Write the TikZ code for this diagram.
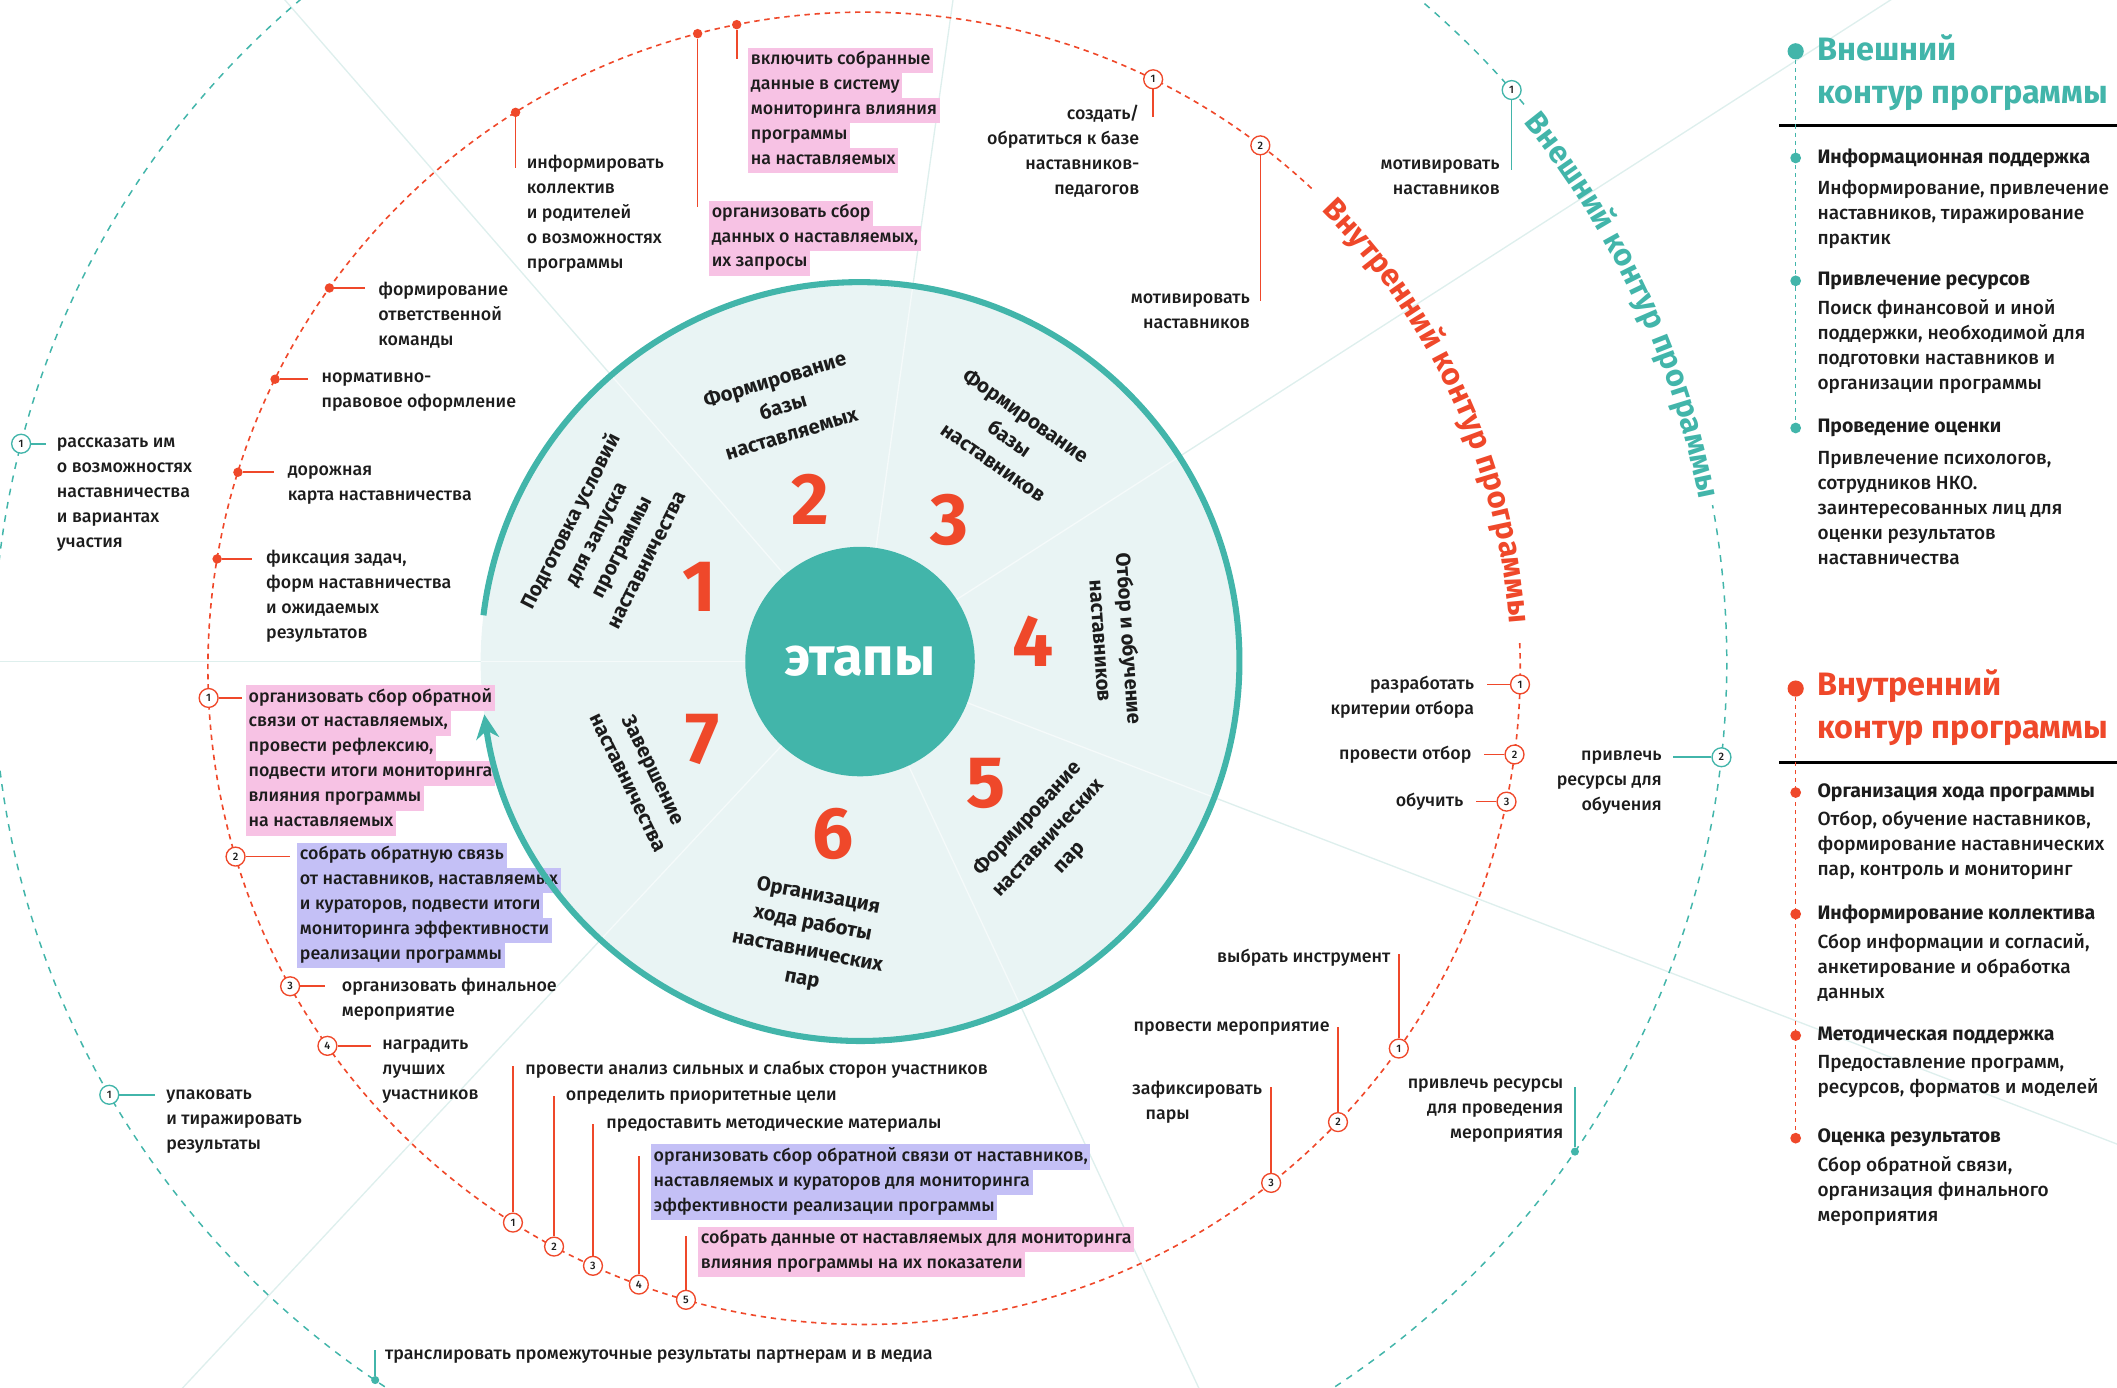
\documentclass[tikz,border=0pt]{standalone}
\usepackage{fontspec}
\IfFontExistsTF{Fira Sans Medium}
  {\setmainfont{Fira Sans Medium}[BoldFont={Fira Sans Bold}]}
  {\setmainfont{Fira Sans}}
\usetikzlibrary{calc,arrows.meta,decorations.text}

\definecolor{tealc}{RGB}{66,181,170}
\definecolor{redc}{RGB}{239,72,42}
\definecolor{diskc}{RGB}{233,244,244}
\definecolor{linec}{RGB}{222,239,237}
\definecolor{pinkhl}{RGB}{247,194,228}
\definecolor{violhl}{RGB}{196,192,246}
\definecolor{inkc}{RGB}{28,28,28}

% highlighted lines
\newcommand{\hl}[2]{{\setlength{\fboxsep}{2pt}\colorbox{#1}{\rule[-4.5pt]{0pt}{14.5pt}#2}}}
\newcommand{\pk}[1]{\hl{pinkhl}{#1}}
\newcommand{\vl}[1]{\hl{violhl}{#1}}

\begin{document}
\begin{tikzpicture}[x=1pt, y=1pt,
  guide/.style={draw=linec, line width=1pt},
  txt/.style={font=\fontsize{13.2}{18.5}\selectfont, text=inkc, inner sep=0pt, align=left},
  txtr/.style={txt, align=right},
  stagelbl/.style={font=\fontsize{15}{21}\selectfont\bfseries, text=inkc, inner sep=0pt, align=center},
  stnum/.style={font=\fontsize{54}{54}\selectfont\bfseries, text=redc, inner sep=0pt},
  rdot/.style={circle, fill=redc, inner sep=0pt, minimum size=7pt},
  tdot/.style={circle, fill=tealc, inner sep=0pt, minimum size=6pt},
  rnum/.style={circle, draw=redc, fill=white, line width=1pt, inner sep=0pt, minimum size=14pt, font=\fontsize{8}{8}\selectfont, text=inkc},
  tnum/.style={rnum, draw=tealc},
  rlink/.style={draw=redc, line width=1.2pt},
  tlink/.style={draw=tealc, line width=1.2pt},
  keytitle/.style={font=\fontsize{24}{32}\selectfont\bfseries, inner sep=0pt, align=left, anchor=west},
  keyhead/.style={font=\fontsize{14.4}{18.5}\selectfont\bfseries, text=inkc, inner sep=0pt, anchor=west},
  keytxt/.style={txt, font=\fontsize{14.1}{18.5}\selectfont, anchor=west},
]
\useasboundingbox (-637,-538) rectangle (931,490);
\coordinate (o) at (0,0);
\coordinate (rc) at (3,-5);

% sector lines and stage disk
\foreach \a in {180,131,82,32.7,-21,-65,-133}
  \draw[guide] (\a:281) -- (\a:1300);
\fill[diskc] (o) circle[radius=281];
\foreach \a in {180,131,82,32.7,-21,-65,-133}
  \draw[white!55!diskc, line width=1pt] (\a:85) -- (\a:281);

% inner and outer contours
\draw[redc, line width=1.2pt, dash pattern=on 4pt off 3.5pt] ($(rc)+(47:486)$) arc[start angle=47, end angle=362.5, radius=486];
\draw[tealc, line width=1.1pt, dash pattern=on 5pt off 5pt] (40:642) arc[start angle=40, end angle=370.4, radius=642];

\path[decorate, decoration={text along path, text align=center, text color=redc,
  text={|\fontsize{23}{23}\selectfont\bfseries|Внутренний контур программы}}]
  ($(rc)+(50:479)$) arc[start angle=50, end angle=-1, radius=479];
\path[decorate, decoration={text along path, text align=center, text color=tealc,
  text={|\fontsize{23}{23}\selectfont\bfseries|Внешний контур программы}}]
  (44:633) arc[start angle=44, end angle=6, radius=633];

% hub
\node[circle, fill=tealc, minimum size=170pt, inner sep=0pt, text=white, font=\fontsize{40}{40}\selectfont\bfseries] (hub) at (o) {этапы};

% stage numbers
\node[stnum] (n1) at (-119,55) {1};
\node[stnum] (n2) at (-37,120) {2};
\node[stnum] (n3) at (66,105) {3};
\node[stnum] (n4) at (128,15) {4};
\node[stnum] (n5) at (93,-90) {5};
\node[stnum] (n6) at (-20,-128) {6};
\node[stnum] (n7) at (-117,-58) {7};

% stage names
\node[stagelbl, rotate=63] (lab1) at (-187,90) {Подготовка условий\\для запуска\\программы\\наставничества};
\node[stagelbl, rotate=17] (lab2) at (-57,189) {Формирование\\базы\\наставляемых};
\node[stagelbl, rotate=-35] (lab3) at (111,165) {Формирование\\базы\\наставников};
\node[stagelbl, rotate=-86] (lab4) at (189,16) {Отбор и обучение\\наставников};
\node[stagelbl, rotate=47] (lab5) at (140,-131) {Формирование\\наставнических\\пар};
\node[stagelbl, rotate=-11] (lab6) at (-37,-205) {Организация\\хода работы\\наставнических\\пар};
\node[stagelbl, rotate=-64] (lab7) at (-162,-85) {Завершение\\наставничества};

% stage 1 tasks
\node[rdot] (a1) at ($(rc)!486pt!(-392,276)$) {};
\node[txt, anchor=west] (ta1) at (-357,256.5) {формирование\\ответственной\\команды};
\draw[rlink] (a1) -- ($(ta1.west |- a1)+(-10,0)$);
\node[rdot] (a2) at ($(rc)!486pt!(-433,209)$) {};
\node[txt, anchor=west] (ta2) at (-399,199.75) {нормативно-\\правовое оформление};
\draw[rlink] (a2) -- ($(ta2.west |- a2)+(-10,0)$);
\node[rdot] (a3) at ($(rc)!486pt!(-460,140)$) {};
\node[txt, anchor=west] (ta3) at (-424,130.75) {дорожная\\карта наставничества};
\draw[rlink] (a3) -- ($(ta3.west |- a3)+(-10,0)$);
\node[rdot] (a4) at ($(rc)!486pt!(-476,76)$) {};
\node[txt, anchor=west] (ta4) at (-440,48.25) {фиксация задач,\\форм наставничества\\и ожидаемых\\результатов};
\draw[rlink] (a4) -- ($(ta4.west |- a4)+(-10,0)$);
\node[tnum] (a5) at ($(o)!642pt!(-620,161)$) {1};
\node[txt, anchor=west] (ta5) at (-595,124) {рассказать им\\о возможностях\\наставничества\\и вариантах\\участия};
\draw[tlink] (a5) -- ($(ta5.west |- a5)+(-8,0)$);

% stage 2 tasks
\node[rdot] (b1) at ($(rc)!486pt!(-254,405)$) {};
\node[txt, anchor=west] (tb1) at (-247,332) {информировать\\коллектив\\и родителей\\о возможностях\\программы};
\draw[rlink] (b1) -- ($(b1 |- tb1.north)+(0,-10)$);
\node[rdot] (b2) at ($(rc)!486pt!(-120,464)$) {};
\node[txt, anchor=west] (tb2) at (-112,313.5) {\pk{организовать сбор}\\\pk{данных о наставляемых,}\\\pk{их запросы}};
\draw[rlink] (b2) -- ($(b2 |- tb2.north)+(0,-5)$);
\node[rdot] (b3) at ($(rc)!486pt!(-91,470)$) {};
\node[txt, anchor=west] (tb3) at (-83,408) {\pk{включить собранные}\\\pk{данные в систему}\\\pk{мониторинга влияния}\\\pk{программы}\\\pk{на наставляемых}};
\draw[rlink] (b3) -- ($(b3 |- tb3.north)+(0,-8)$);

% stage 3 tasks
\node[rnum] (c1) at ($(rc)!486pt!(216,429)$) {1};
\node[txtr, anchor=east] (tc1) at (207,378.25) {создать/\\обратиться к базе\\наставников-\\педагогов};
\draw[rlink] (c1) -- ($(c1 |- tc1.north)+(0,-9)$);
\node[rnum] (c2) at ($(rc)!486pt!(297,383)$) {2};
\node[txtr, anchor=east] (tc2) at (289,259.75) {мотивировать\\наставников};
\draw[rlink] (c2) -- ($(c2 |- tc2.north)+(0,-6)$);
\node[tnum] (c3) at ($(o)!642pt!(480,421)$) {1};
\node[txtr, anchor=east] (tc3) at (474,358.75) {мотивировать\\наставников};
\draw[tlink] (c3) -- ($(c3 |- tc3.north)+(0,-8)$);

% stage 4 tasks
\node[rnum] (d1) at ($(rc)!486pt!(490,-17)$) {1};
\node[txtr, anchor=east] (td1) at (455,-26.25) {разработать\\критерии отбора};
\draw[rlink] (d1) -- ($(td1.east |- d1)+(9,0)$);
\node[rnum] (d2) at ($(rc)!486pt!(486,-69)$) {2};
\node[txtr, anchor=east] (td2) at (453,-69) {провести отбор};
\draw[rlink] (d2) -- ($(td2.east |- d2)+(9,0)$);
\node[rnum] (d3) at ($(rc)!486pt!(480,-104)$) {3};
\node[txtr, anchor=east] (td3) at (447,-104) {обучить};
\draw[rlink] (d3) -- ($(td3.east |- d3)+(9,0)$);
\node[tnum] (d4) at ($(o)!642pt!(639,-71)$) {2};
\node[txtr, anchor=east] (td4) at (594,-89.5) {привлечь\\ресурсы для\\обучения};
\draw[tlink] (d4) -- ($(td4.east |- d4)+(8,0)$);

% stage 5 tasks
\node[rnum] (e1) at ($(rc)!486pt!(401,-288)$) {1};
\node[txtr, anchor=east] (te1) at (393,-219) {выбрать инструмент};
\draw[rlink] (e1) -- ($(e1 |- te1.north)+(0,-4)$);
\node[rnum] (e2) at ($(rc)!486pt!(356,-343)$) {2};
\node[txtr, anchor=east] (te2) at (348,-272) {провести мероприятие};
\draw[rlink] (e2) -- ($(e2 |- te2.north)+(0,-4)$);
\node[rnum] (e3) at ($(rc)!486pt!(306,-388)$) {3};
\node[txt, anchor=east] (te3) at (298,-326.25) {зафиксировать\\\hspace{10pt}пары};
\draw[rlink] (e3) -- ($(e3 |- te3.north)+(0,-5)$);
\node[tdot] (e4) at ($(o)!642pt!(531,-364)$) {};
\node[txtr, anchor=east] (te4) at (521,-332.5) {привлечь ресурсы\\для проведения\\мероприятия};
\draw[tlink] (e4) -- ($(e4 |- te4.north)+(0,-6)$);

% stage 6 tasks
\node[rnum] (f1) at ($(rc)!486pt!(-258,-417)$) {1};
\node[txt, anchor=west] (tf1) at (-248,-302) {провести анализ сильных и слабых сторон участников};
\draw[rlink] (f1) -- ($(f1 |- tf1.north)+(0,-4)$);
\node[rnum] (f2) at ($(rc)!486pt!(-227,-434)$) {2};
\node[txt, anchor=west] (tf2) at (-218,-323) {определить приоритетные цели};
\draw[rlink] (f2) -- ($(f2 |- tf2.north)+(0,-4)$);
\node[rnum] (f3) at ($(rc)!486pt!(-198,-448)$) {3};
\node[txt, anchor=west] (tf3) at (-188,-344) {предоставить методические материалы};
\draw[rlink] (f3) -- ($(f3 |- tf3.north)+(0,-4)$);
\node[rnum] (f4) at ($(rc)!486pt!(-164,-462)$) {4};
\node[txt, anchor=west] (tf4) at (-155,-385.5) {\vl{организовать сбор обратной связи от наставников,}\\\vl{наставляемых и кураторов для мониторинга}\\\vl{эффективности реализации программы}};
\draw[rlink] (f4) -- ($(f4 |- tf4.north)+(0,-9)$);
\node[rnum] (f5) at ($(rc)!486pt!(-129,-473)$) {5};
\node[txt, anchor=west] (tf5) at (-120,-437.25) {\pk{собрать данные от наставляемых для мониторинга}\\\pk{влияния программы на их показатели}};
\draw[rlink] (f5) -- ($(f5 |- tf5.north)+(0,-7)$);
\node[tdot] (f6) at ($(o)!642pt!(-359,-532)$) {};
\node[txt, anchor=west] (tf6) at (-352,-515) {транслировать промежуточные результаты партнерам и в медиа};
\draw[tlink] (f6) -- (f6 |- tf6.north);

% stage 7 tasks
\node[rnum] (g1) at ($(rc)!486pt!(-483,-27)$) {1};
\node[txt, anchor=west] (tg1) at (-455,-73.25) {\pk{организовать сбор обратной}\\\pk{связи от наставляемых,}\\\pk{провести рефлексию,}\\\pk{подвести итоги мониторинга}\\\pk{влияния программы}\\\pk{на наставляемых}};
\draw[rlink] (g1) -- ($(tg1.west |- g1)+(-3,0)$);
\node[rnum] (g2) at ($(rc)!486pt!(-461,-144)$) {2};
\node[txt, anchor=west] (tg2) at (-417,-181) {\vl{собрать обратную связь}\\\vl{от наставников, наставляемых}\\\vl{и кураторов, подвести итоги}\\\vl{мониторинга эффективности}\\\vl{реализации программы}};
\draw[rlink] (g2) -- ($(tg2.west |- g2)+(-5,0)$);
\node[rnum] (g3) at ($(rc)!486pt!(-423,-241)$) {3};
\node[txt, anchor=west] (tg3) at (-384,-250.25) {организовать финальное\\мероприятие};
\draw[rlink] (g3) -- ($(tg3.west |- g3)+(-12,0)$);
\node[rnum] (g4) at ($(rc)!486pt!(-395,-285)$) {4};
\node[txt, anchor=west] (tg4) at (-354,-303.5) {наградить\\лучших\\участников};
\draw[rlink] (g4) -- ($(tg4.west |- g4)+(-8,0)$);
\node[tnum] (g5) at ($(o)!642pt!(-558,-322)$) {1};
\node[txt, anchor=west] (tg5) at (-514,-340.5) {упаковать\\и тиражировать\\результаты};
\draw[tlink] (g5) -- ($(tg5.west |- g5)+(-8,0)$);

% stage cycle arrow
\draw[tealc, line width=4.5pt, -{Stealth[length=18pt, width=17pt]}] (173:281) arc[start angle=173, end angle=-172, radius=281];

% legend: outer contour
\node[circle, fill=tealc, inner sep=0pt, minimum size=12pt] (kt) at (693,452) {};
\node[keytitle, text=tealc] (ktt) at (709,436) {Внешний\\контур программы};
\draw[black, line width=2.2pt] (681,397) -- (931,397);
\node[circle, fill=tealc, inner sep=0pt, minimum size=8pt] (kt1) at (693,373) {};
\node[circle, fill=tealc, inner sep=0pt, minimum size=8pt] (kt2) at (693,282) {};
\node[circle, fill=tealc, inner sep=0pt, minimum size=8pt] (kt3) at (693,173) {};
\draw[tealc, line width=1pt, dash pattern=on 3pt off 3pt] (kt) -- (kt3);
\node[keyhead] (kh1) at (709,373) {Информационная поддержка};
\node[keytxt] (kd1) at (709,331.5) {Информирование, привлечение\\наставников, тиражирование\\практик};
\node[keyhead] (kh2) at (709,282) {Привлечение ресурсов};
\node[keytxt] (kd2) at (709,233.25) {Поиск финансовой и иной\\поддержки, необходимой для\\подготовки наставников и\\организации программы};
\node[keyhead] (kh3) at (709,173) {Проведение оценки};
\node[keytxt] (kd3) at (709,114) {Привлечение психологов,\\сотрудников НКО.\\заинтересованных лиц для\\оценки результатов\\наставничества};

% legend: inner contour
\node[circle, fill=redc, inner sep=0pt, minimum size=12pt] (kr) at (693,-20) {};
\node[keytitle, text=redc] (krt) at (709,-34) {Внутренний\\контур программы};
\draw[black, line width=2.2pt] (681,-75) -- (931,-75);
\node[circle, fill=redc, inner sep=0pt, minimum size=8pt] (kr1) at (693,-97) {};
\node[circle, fill=redc, inner sep=0pt, minimum size=8pt] (kr2) at (693,-187) {};
\node[circle, fill=redc, inner sep=0pt, minimum size=8pt] (kr3) at (693,-277) {};
\node[circle, fill=redc, inner sep=0pt, minimum size=8pt] (kr4) at (693,-353) {};
\draw[redc, line width=1pt, dash pattern=on 3pt off 3pt] (kr) -- (kr4);
\node[keyhead] (kq1) at (709,-97) {Организация хода программы};
\node[keytxt] (ke1) at (709,-136.5) {Отбор, обучение наставников,\\формирование наставнических\\пар, контроль и мониторинг};
\node[keyhead] (kq2) at (709,-187) {Информирование коллектива};
\node[keytxt] (ke2) at (709,-226.5) {Сбор информации и согласий,\\анкетирование и обработка\\данных};
\node[keyhead] (kq3) at (709,-277) {Методическая поддержка};
\node[keytxt] (ke3) at (709,-307.25) {Предоставление программ,\\ресурсов, форматов и моделей};
\node[keyhead] (kq4) at (709,-353) {Оценка результатов};
\node[keytxt] (ke4) at (709,-392.5) {Сбор обратной связи,\\организация финального\\мероприятия};
\end{tikzpicture}
\end{document}
